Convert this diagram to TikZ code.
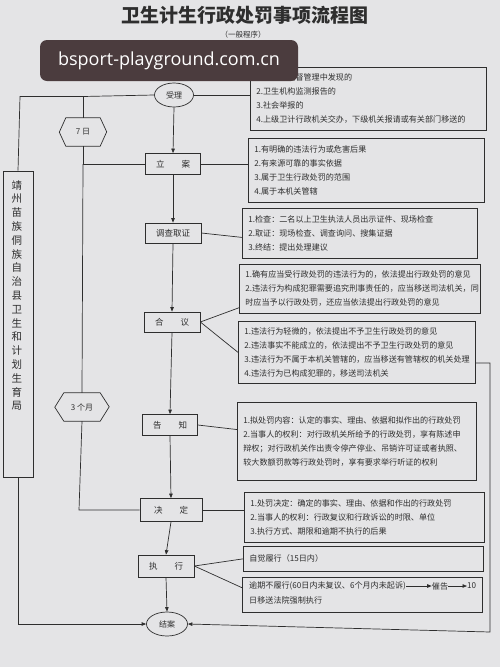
\documentclass[tikz,border=0pt]{standalone}
\usepackage{fontspec}
\setmainfont{Noto Sans CJK SC}
\newfontfamily\wmfont{Open Sans}
\usetikzlibrary{shapes.geometric,arrows.meta,calc}
\definecolor{paper}{HTML}{E4E4E6}
\definecolor{ink}{HTML}{2E2E2E}
\definecolor{wmbg}{HTML}{4B3C3E}
\tikzset{
  ln/.style={draw=ink, line width=0.7pt},
  arr/.style={ln, -{Triangle[length=4.5pt,width=3.5pt]}},
  stepbox/.style={ln, rectangle, minimum height=21pt, inner sep=0pt, font=\fontsize{8.5}{10}\selectfont, text=ink},
  oval/.style={ln, ellipse, minimum width=39pt, minimum height=24pt, inner sep=0pt, font=\fontsize{8}{10}\selectfont, text=ink},
  infobox/.style={ln, rectangle, anchor=north west, align=left, inner xsep=6pt, inner ysep=0pt, font=\fontsize{8.1}{14}\selectfont, text=ink},
  hexlabel/.style={rectangle, inner sep=0pt, minimum height=28pt, font=\fontsize{8}{10}\selectfont, text=ink},
  note/.style={inner sep=0pt, font=\fontsize{8.1}{14}\selectfont, text=ink}
}
\begin{document}
\begin{tikzpicture}[x=1pt,y=-1pt]
\useasboundingbox (0,0) rectangle (500,667);
\fill[paper] (0,0) rectangle (500,667);

% title
\node[font=\fontsize{19}{22}\selectfont\bfseries, text=ink] (title) at (245,15) {卫生计生行政处罚事项流程图};
\node[font=\fontsize{7.5}{9}\selectfont, text=ink] (sub) at (243,35) {（一般程序）};

% main column
\node[oval] (shouli) at (174,95) {受理};
\node[stepbox, minimum width=55pt] (lian) at (173,164) {立\hspace{2em}案};
\node[stepbox, minimum width=56pt, minimum height=20pt] (diaocha) at (173,233) {调查取证};
\node[stepbox, minimum width=56pt, minimum height=20pt] (heyi) at (172,322) {合\hspace{2em}议};
\node[stepbox, minimum width=55pt] (gaozhi) at (170,425) {告\hspace{2em}知};
\node[stepbox, minimum width=62pt, minimum height=23pt] (jueding) at (171,510) {决\hspace{2em}定};
\node[stepbox, minimum width=56pt, minimum height=22pt] (zhixing) at (166,566) {执\hspace{2em}行};
\node[oval, minimum width=41pt] (jiean) at (167,624) {结案};

% info boxes
\node[infobox, text width=224pt, minimum height=63pt] (b1) at (250,67)
 {1.在卫生监督管理中发现的\\2.卫生机构监测报告的\\3.社会举报的\\4.上级卫计行政机关交办，下级机关报请或有关部门移送的};
\node[infobox, text width=224pt, minimum height=64pt] (b2) at (248,138)
 {1.有明确的违法行为或危害后果\\2.有来源可靠的事实依据\\3.属于卫生行政处罚的范围\\4.属于本机关管辖};
\node[infobox, text width=223pt, minimum height=50pt] (b3) at (242,208)
 {1.检查：二名以上卫生执法人员出示证件、现场检查\\2.取证：现场检查、调查询问、搜集证据\\3.终结：提出处理建议};
\node[infobox, text width=229pt, minimum height=49pt] (b4a) at (239,264)
 {1.确有应当受行政处罚的违法行为的，依法提出行政处罚的意见\\2.违法行为构成犯罪需要追究刑事责任的，应当移送司法机关，同\\时应当予以行政处罚，还应当依法提出行政处罚的意见};
\node[infobox, text width=225pt, minimum height=62pt] (b4b) at (238,321)
 {1.违法行为轻微的，依法提出不予卫生行政处罚的意见\\2.违法事实不能成立的，依法提出不予卫生行政处罚的意见\\3.违法行为不属于本机关管辖的，应当移送有管辖权的机关处理\\4.违法行为已构成犯罪的，移送司法机关};
\node[infobox, text width=227pt, minimum height=78pt] (b5) at (237,402)
 {1.拟处罚内容：认定的事实、理由、依据和拟作出的行政处罚\\2.当事人的权利：对行政机关所给予的行政处罚，享有陈述申\\辩权；对行政机关作出责令停产停业、吊销许可证或者执照、\\较大数额罚款等行政处罚时，享有要求举行听证的权利\\[6pt]};
\node[infobox, text width=228pt, minimum height=50pt] (b6) at (244,492)
 {1.处罚决定：确定的事实、理由、依据和作出的行政处罚\\2.当事人的权利：行政复议和行政诉讼的时限、单位\\3.执行方式、期限和逾期不执行的后果};
\node[infobox, text width=228pt, minimum height=25pt] (b7a) at (243,546) {自觉履行（15日内）};
\node[infobox, text width=228pt, minimum height=35pt] (b7b) at (242,577) {};
\node[note, anchor=west] (t7a) at (249,586) {逾期不履行(60日内未复议、6个月内未起诉)};
\node[note] (cuigao) at (440,586) {催告};
\node[note, anchor=west] (ten) at (467,586) {10};
\node[note, anchor=west] (t7b) at (249,600) {日移送法院强制执行};

% side elements
\node[hexlabel, minimum width=34pt] (h7) at (83,132) {7 日};
\draw[ln] (h7.north west) -- (h7.north east) -- ++(6.5,14) -- (h7.south east) -- (h7.south west) -- ++(-6.5,-14) -- cycle;
\node[hexlabel, minimum width=36pt] (h3) at (82,407) {3 个月};
\draw[ln] (h3.north west) -- (h3.north east) -- ++(9,14) -- (h3.south east) -- (h3.south west) -- ++(-9,-14) -- cycle;
\node[ln, rectangle, minimum width=30pt, minimum height=306pt, inner sep=0pt] (jz) at (18,324) {};
\node[font=\fontsize{10.5}{13.8}\selectfont, text=ink, align=center, anchor=north, inner sep=0pt] (jztext) at (17,180)
 {靖\\州\\苗\\族\\侗\\族\\自\\治\\县\\卫\\生\\和\\计\\划\\生\\育\\局};

% watermark
\node[fill=wmbg, rounded corners=7pt, minimum width=258pt, minimum height=41pt, inner sep=0pt,
      text=white, font=\wmfont\fontsize{18}{20}\selectfont] (wm) at (169,60.5) {bsport-playground.com.cn};

% coordinates
\coordinate (c1) at (20,96.5);
\coordinate (j7) at (83,96.5);
\coordinate (j2) at (83,164);
\coordinate (j3) at (79,510);
\coordinate (r1) at (490,363);
\coordinate (r2) at (490,632);

% connectors main column
\draw[arr] (shouli.south) -- (lian.north);
\draw[arr] (lian.south) -- (diaocha.north);
\draw[arr] (diaocha.south) -- (heyi.north);
\draw[arr] (heyi.south) -- (gaozhi.north);
\draw[arr] (gaozhi.south) -- (jueding.north);
\draw[arr] (jueding.south) -- (zhixing.north);
\draw[arr] (zhixing.south) -- (jiean.north);

% connectors to info boxes
\draw[ln] (shouli.east) -- (shouli.east -| b1.west);
\draw[ln] (lian.east) -- (lian.east -| b2.west);
\draw[ln] (diaocha.east) -- ($(b3.south west)!0.42!(b3.north west)$);
\draw[ln] (heyi.east) -- ($(b4a.south west)!0.12!(b4a.north west)$);
\draw[ln] (heyi.east) -- (b4b.west);
\draw[ln] (gaozhi.east) -- ($(b5.south west)!0.65!(b5.north west)$);
\draw[ln] (jueding.east) -- (jueding.east -| b6.west);
\draw[ln] (zhixing.east) -- (b7a.west);
\draw[ln] (zhixing.east) -- ($(b7b.south west)!0.7!(b7b.north west)$);
\draw[arr] (t7a.east) -- (cuigao.west);
\draw[arr] (cuigao.east) -- (ten.west);

% left side lines
\draw[ln] (shouli.west) -- (j7) -- (c1) -- (jz.north);
\draw[ln] (j7) -- (h7.north);
\draw[ln] (h7.south) -- (j2) -- (lian.west);
\draw[ln] (j2) -- (h3.north);
\draw[ln] (h3.south) -- (j3) -- (jueding.west);
\draw[arr] (jz.south) -- (jz.south |- jiean.west) -- (jiean.west);

% right side line
\draw[arr] (b4b.east |- r1) -- (r1) -- (r2) -- (jiean.east);
\end{tikzpicture}
\end{document}
